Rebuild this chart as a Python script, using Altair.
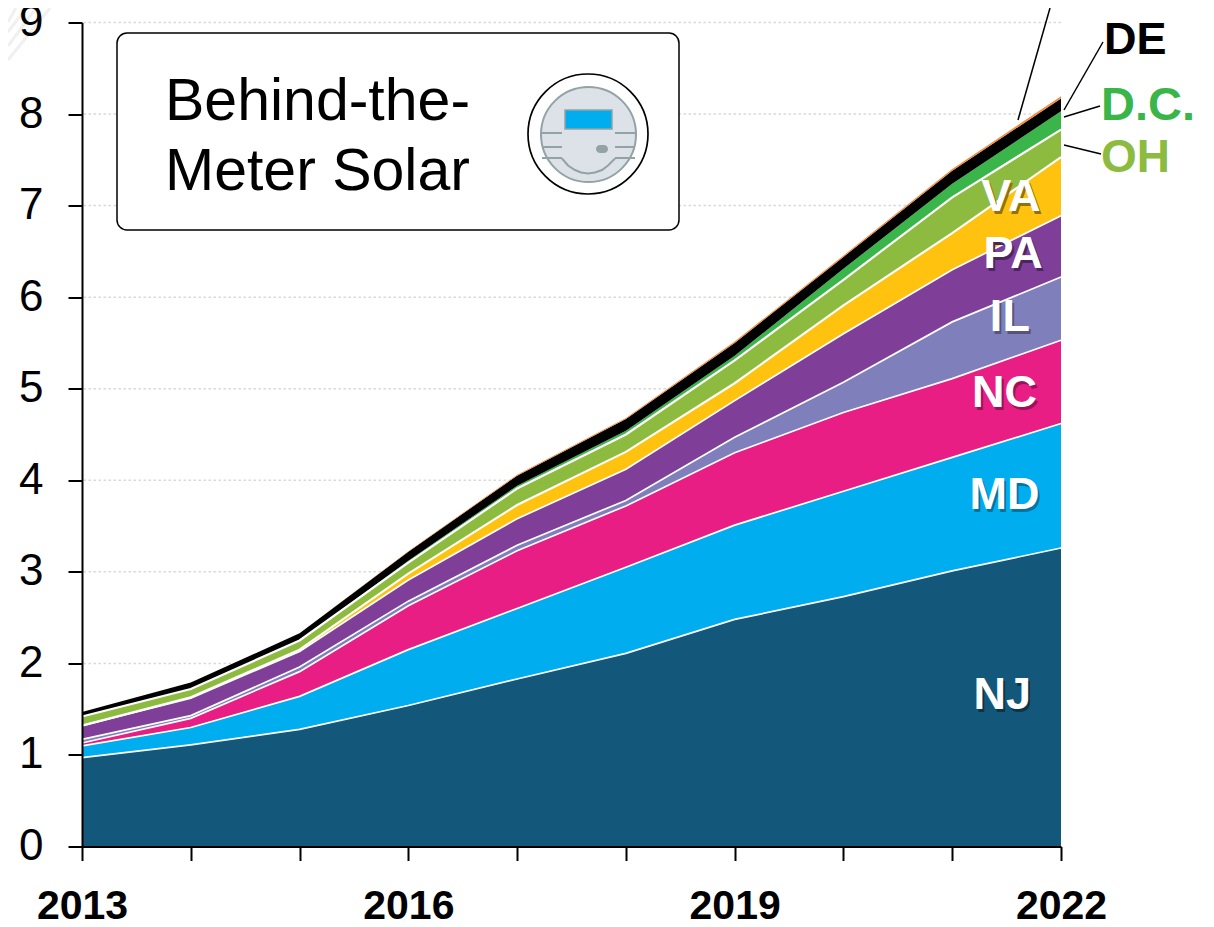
import altair as alt
import pandas as pd

years = [2013, 2014, 2015, 2016, 2017, 2018, 2019, 2020, 2021, 2022]
states = ["NJ", "MD", "NC", "IL", "PA", "VA", "OH", "DC", "DE", "Other"]
colors = ["#13587a", "#00aeef", "#e91e84", "#7f7fbb", "#7f3f98", "#ffc20e", "#8dbb3f", "#39b54a", "#000000", "#f58a3c"]
NJ = [.97, 1.11, 1.28, 1.54, 1.83, 2.11, 2.48, 2.73, 3.01, 3.26]
MD = [.13, .19, .36, .61, .77, .94, 1.03, 1.15, 1.24, 1.36]
NC = [.03, .10, .27, .48, .63, .67, .79, .86, .86, .91]
IL = [.04, .03, .05, .05, .06, .06, .17, .33, .62, .69]
PA = [.15, .19, .17, .23, .29, .34, .40, .53, .57, .67]
VA = [0, .01, .02, .07, .15, .19, .19, .31, .40, .64]
OH = [.10, .09, .10, .12, .18, .19, .25, .28, .39, .30]
DC = [0, 0, 0, .02, .03, .04, .05, .12, .15, .20]
DE = [.05, .07, .08, .10, .11, .13, .14, .13, .14, .14]
Other = [0, 0, 0, .005, .01, .01, .015, .015, .02, .025]
series = [NJ, MD, NC, IL, PA, VA, OH, DC, DE, Other]
y_ticks = [0, 1, 2, 3, 4, 5, 6, 7, 8, 9]

label_names = ["NJ", "MD", "NC", "IL", "PA", "VA"]
label_x = [2021.46, 2021.48, 2021.48, 2021.53, 2021.56, 2021.54]
label_y = [1.65, 3.84, 4.95, 5.78, 6.47, 7.09]
label_shadow = ["#0b3549", "#00769f", "#9c1259", "#54547f", "#4c2560", "#94700a"]

rows = []
base = [0.0] * len(years)
for name, col, vals in zip(states, colors, series):
    for i, yr in enumerate(years):
        top = base[i] + vals[i]
        rows.append(dict(year=yr, state=name, color=col, y0=base[i], y1=top))
    base = [b + v for b, v in zip(base, vals)]
df = pd.DataFrame(rows)

W, H = 979, 824
FONT = "Liberation Sans"
X0, Y0 = 82, 22.5  # page position of plot origin


def px(v):
    return alt.value(v - X0)


def py(v):
    return alt.value(v - Y0)


x_enc = alt.X(
    "year:Q",
    scale=alt.Scale(domain=[2013, 2022], nice=False, zero=False),
    axis=alt.Axis(
        values=years, format="d", title=None, grid=False, domainColor="black", domainWidth=2,
        tickColor="black", tickWidth=2, tickSize=14, labelFont=FONT, labelFontWeight="bold",
        labelFontSize=41, labelColor="black", labelPadding=26, labelOverlap=False, labelFlush=False,
        labelExpr="indexof([2013,2016,2019,2022], datum.value) >= 0 ? datum.label : ''", zindex=1,
    ),
)
y_enc = alt.Y(
    "y0:Q",
    scale=alt.Scale(domain=[0, 9], nice=False),
    axis=alt.Axis(
        values=y_ticks, format="d", title=None, grid=False, domainColor="black", domainWidth=2,
        tickColor="black", tickWidth=2, tickSize=14, labelFont=FONT, labelFontSize=44,
        labelColor="black", labelPadding=25, labelOverlap=False, labelFlush=False, zindex=1,
    ),
)

grid = (
    alt.Chart(pd.DataFrame({"v": y_ticks[1:]}))
    .mark_rule(color="#d9d9d9", strokeWidth=1.5, strokeDash=[2.5, 2.5])
    .encode(y=alt.Y("v:Q"))
)

areas = (
    alt.Chart(df)
    .mark_area(interpolate="linear", opacity=1)
    .encode(x=x_enc, y=y_enc, y2="y1:Q", color=alt.Color("color:N", scale=None), detail="state:N")
)

white_states = ["NJ", "MD", "NC", "IL", "PA"]
lines = (
    alt.Chart(df[df.state.isin(white_states)])
    .mark_line(color="white", strokeWidth=1.7, interpolate="linear")
    .encode(x=alt.X("year:Q"), y=alt.Y("y1:Q"), detail="state:N")
)
lines2 = (
    alt.Chart(df[df.state.isin(["VA", "OH"])])
    .mark_line(color="white", strokeWidth=2.2, interpolate="linear")
    .encode(x=alt.X("year:Q"), y=alt.Y("y1:Q"), detail="state:N")
)

lab = pd.DataFrame(dict(name=label_names, x=label_x, y=label_y, shadow=label_shadow))
shadow = (
    alt.Chart(lab)
    .mark_text(font=FONT, fontWeight="bold", fontSize=45, dx=2, dy=3)
    .encode(x=alt.X("x:Q"), y=alt.Y("y:Q"), text="name:N", color=alt.Color("shadow:N", scale=None))
)
labels = (
    alt.Chart(lab)
    .mark_text(font=FONT, fontWeight="bold", fontSize=45, color="white")
    .encode(x=alt.X("x:Q"), y=alt.Y("y:Q"), text="name:N")
)

anno = pd.DataFrame({"a": [0]})


def rule(x1, y1, x2, y2, color="black", w=1.5):
    return alt.Chart(anno).mark_rule(color=color, strokeWidth=w).encode(
        x=px(x1), x2=px(x2), y=py(y1), y2=py(y2)
    )


def text(s, x, y, size, color="black", weight="normal"):
    return alt.Chart(anno).mark_text(
        text=s, font=FONT, fontSize=size, color=color, fontWeight=weight, align="left", baseline="alphabetic"
    ).encode(x=px(x), y=py(y))


def circle(cx, cy, r, fill, stroke, w):
    return alt.Chart(anno).mark_point(
        shape="circle", filled=True, fill=fill, stroke=stroke, strokeWidth=w, size=(2 * r) ** 2, opacity=1
    ).encode(x=px(cx), y=py(cy))


def box(x1, y1, x2, y2, fill, stroke, w, radius=0):
    return alt.Chart(anno).mark_rect(
        fill=fill, stroke=stroke, strokeWidth=w, cornerRadius=radius
    ).encode(x=px(x1), x2=px(x2), y=py(y1), y2=py(y2))


# faint watermark rays in the corner
rays = [
    rule(8, 60, 50, 8, "#f0f0f0", 3),
    rule(8, 46, 36, 8, "#f0f0f0", 3),
    rule(8, 32, 26, 8, "#f0f0f0", 3),
    rule(8, 22, 16, 8, "#f0f0f0", 3),
]

leaders = [
    rule(1018, 120, 1050, 8),
    rule(1064, 110, 1103, 42),
    rule(1064, 117, 1100, 106),
    rule(1064, 145, 1101, 154),
]
side = [
    text("DE", 1104, 54, 45, "black", "bold"),
    text("D.C.", 1101, 120, 47, "#39b54a", "bold"),
    text("OH", 1101, 172, 46, "#8dbb3f", "bold"),
]

callout = [
    box(117, 33, 679, 230, "white", "black", 1.5, 10),
    text("Behind-the-", 165, 120, 59),
    text("Meter Solar", 165, 190, 59),
]

STEEL = "#93a3a5"
curve_px = [(562, 158), (568, 165), (575, 169.5), (581, 172), (588, 173), (595, 172), (602, 169.5), (608, 165), (615, 158)]
curve = pd.DataFrame(
    dict(
        x=[2013 + (p[0] - X0) / (W / 9) for p in curve_px],
        y=[(846 - p[1]) / (H / 9) for p in curve_px],
    )
)
icon = [
    circle(588, 134, 60, "white", "black", 1.7),
    circle(588.5, 134.5, 47.5, "#dde1e8", STEEL, 2),
    box(565, 110, 612, 129, "#00aeef", STEEL, 1.5),
    rule(542, 133, 562, 133, STEEL, 2),
    rule(615, 133, 635, 133, STEEL, 2),
    rule(542, 147, 562, 147, STEEL, 2),
    rule(615, 147, 635, 147, STEEL, 2),
    rule(542, 158, 562, 158, STEEL, 2),
    rule(615, 158, 635, 158, STEEL, 2),
    alt.Chart(curve).mark_line(color=STEEL, strokeWidth=2, interpolate="linear").encode(
        x=alt.X("x:Q"), y=alt.Y("y:Q")
    ),
    box(596, 145, 608, 153, STEEL, STEEL, 0, 4),
]

chart = (
    alt.layer(grid, areas, lines, lines2, shadow, labels, *rays, *leaders, *side, *callout, *icon)
    .properties(
        width=W, height=H,
        padding={"left": 74, "top": 14.5, "right": 145, "bottom": 80},
        autosize=alt.AutoSizeParams(type="none"),
        background="white",
    )
    .configure_view(stroke=None)
)
chart.save("out.html", embed_options={"renderer": "svg", "actions": False})
